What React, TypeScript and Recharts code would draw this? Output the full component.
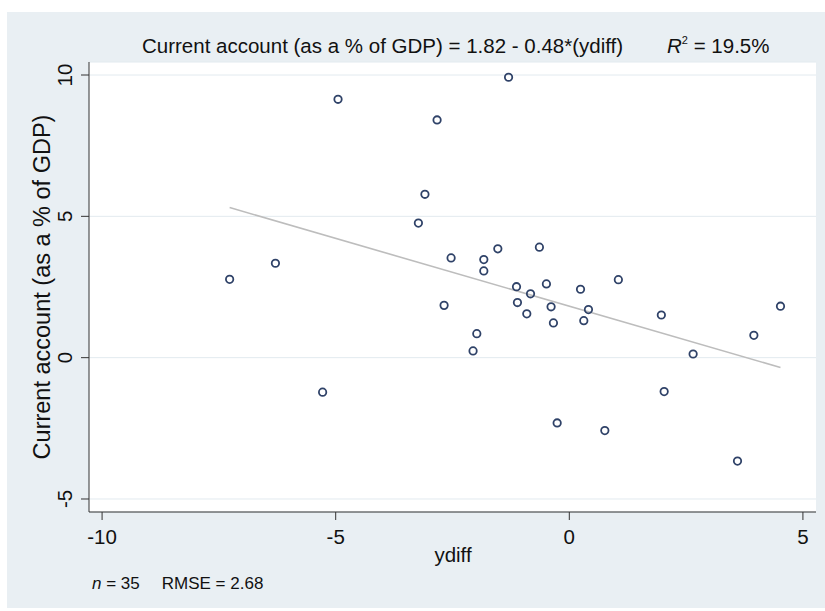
import { ScatterChart, Scatter, XAxis, YAxis, CartesianGrid, ReferenceLine } from 'recharts';

// values
const ydiff = [
  -7.27, -6.29, -5.28, -4.95, -2.83, -3.09, -3.23, -2.53, -2.68, -1.83,
  -1.83, -1.53, -0.64, -1.13, -0.83, -0.49, 0.24, 1.05, -1.11, -0.91,
  -0.39, 0.41, -0.34, 0.31, 1.97, 4.52, -1.98, -2.06, 2.65, 3.95,
  2.03, -0.26, 0.76, 3.6, -1.3,
];
const currentAccount = [
  2.77, 3.34, -1.22, 9.14, 8.41, 5.78, 4.76, 3.53, 1.85, 3.47,
  3.07, 3.85, 3.91, 2.51, 2.26, 2.61, 2.42, 2.76, 1.95, 1.55,
  1.8, 1.7, 1.23, 1.31, 1.51, 1.82, 0.85, 0.24, 0.13, 0.79,
  -1.2, -2.31, -2.58, -3.66, 9.92,
];
const xTicks = [-10, -5, 0, 5];
const yTicks = [-5, 0, 5, 10];
const fitIntercept = 1.82;
const fitSlope = -0.48;
const rSquared = '19.5%';
const nObs = 35;
const rmse = '2.68';

const points = ydiff.map((x, i) => ({ x, y: currentAccount[i] }));
const fitX = [Math.min(...ydiff), Math.max(...ydiff)];
const fitSegment = fitX.map((x) => ({ x, y: fitIntercept + fitSlope * x }));

const FONT = '"Liberation Sans", Arial, Helvetica, sans-serif';
const INK = '#111';

function HollowCircle(props: any) {
  const { cx, cy } = props;
  return <circle cx={cx} cy={cy} r={3.7} fill="none" stroke="#2f4268" strokeWidth={1.8} />;
}

function XTick(props: any) {
  const { x, y, payload } = props;
  return (
    <text x={x} y={y + 22} textAnchor="middle" fontSize={20.5} fontFamily={FONT} fill={INK}>
      {payload.value}
    </text>
  );
}

function YTick(props: any) {
  const { x, y, payload } = props;
  const bx = x - 7;
  return (
    <text x={bx} y={y} transform={`rotate(-90 ${bx} ${y})`} textAnchor="middle" fontSize={20.5} fontFamily={FONT} fill={INK}>
      {payload.value}
    </text>
  );
}

function App() {
  return (
    <div style={{ position: 'absolute', left: 0, top: 0, width: 825, height: 611, background: '#fff' }}>
      <div style={{ position: 'absolute', left: 7, top: 12, width: 818, height: 596, background: '#e9eff3' }} />
      <div style={{ position: 'absolute', left: 0, top: 0 }}>
        <ScatterChart width={825} height={611} margin={{ top: 62, right: 9, bottom: 69, left: 29 }}>
          <CartesianGrid vertical={false} stroke="#e2eaef" fill="#ffffff" />
          <XAxis
            type="number"
            dataKey="x"
            domain={[-10.28, 5.28]}
            ticks={xTicks}
            allowDataOverflow
            height={30}
            tickSize={8}
            stroke="#333"
            tick={<XTick />}
          />
          <YAxis
            type="number"
            dataKey="y"
            domain={[-5.46, 10.46]}
            ticks={yTicks}
            allowDataOverflow
            width={60}
            tickSize={8}
            stroke="#333"
            tick={<YTick />}
          />
          <ReferenceLine
            segment={fitSegment}
            stroke="#bdbdbd"
            strokeWidth={1.6}
            ifOverflow="visible"
          />
          <Scatter data={points} shape={<HollowCircle />} isAnimationActive={false} />
        </ScatterChart>
      </div>
      <svg width={825} height={611} style={{ position: 'absolute', left: 0, top: 0, pointerEvents: 'none', whiteSpace: 'pre' }}>
        <text x={142} y={53} fontSize={20.5} fontFamily={FONT} fill={INK}>
          <tspan>Current account (as a % of GDP) = {fitIntercept} - {Math.abs(fitSlope)}*(ydiff)</tspan>
          <tspan dx={44} fontStyle="italic">R</tspan>
          <tspan dy={-9} fontSize={11}>2</tspan>
          <tspan dy={9}> = {rSquared}</tspan>
        </text>
        <text x={50} y={287} transform="rotate(-90 50 287)" textAnchor="middle" fontSize={23.5} fontFamily={FONT} fill={INK}>
          Current account (as a % of GDP)
        </text>
        <text x={453} y={562} textAnchor="middle" fontSize={20.5} fontFamily={FONT} fill={INK}>
          ydiff
        </text>
        <text x={92} y={589} fontSize={17} fontFamily={FONT} fill={INK}>
          <tspan fontStyle="italic">n</tspan>
          <tspan>{` = ${nObs}`}</tspan>
          <tspan dx={22}>{`RMSE =  ${rmse}`}</tspan>
        </text>
      </svg>
    </div>
  );
}

export default App;
